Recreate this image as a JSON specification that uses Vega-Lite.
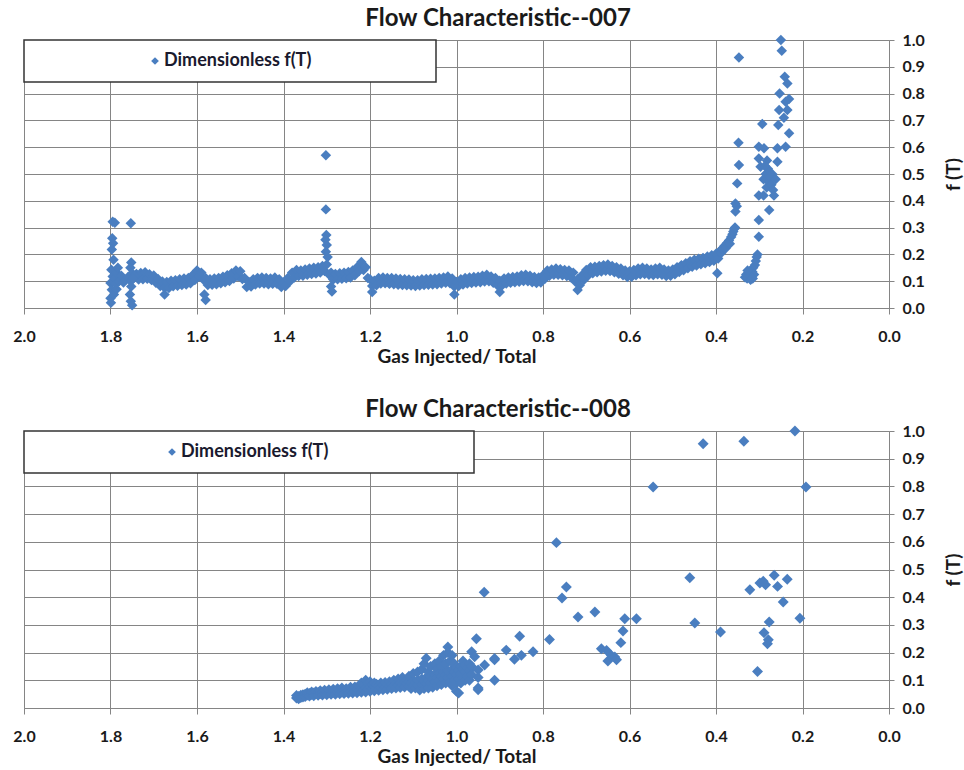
{
"$schema":"https://vega.github.io/schema/vega-lite/v6.json",
"background":"white",
"padding":{"left":12,"top":7,"right":0,"bottom":2},
"spacing":32,
"config":{
"view":{"stroke":null},
"font":"Lato",
"axis":{"labelFont":"Lato","labelFontWeight":"bold","labelFontSize":16,"labelColor":"#1a1a1a","titleFont":"Lato","titleFontWeight":"bold","titleFontSize":19,"titleColor":"#1a1a1a","gridColor":"#858585","gridOpacity":1,"domainColor":"#858585","tickColor":"#858585","labelOverlap":false,"labelBound":false},
"title":{"font":"Lato","fontSize":24,"fontWeight":"bold","color":"#1a1a1a"},
"legend":{"title":null,"orient":"top-left","offset":0,"padding":12,"strokeColor":"#333333","strokeWidth":1.5,"fillColor":"white","symbolType":"diamond","symbolSize":60,"labelFont":"Lato","labelFontWeight":"bold","labelFontSize":18,"labelColor":"#1a1a2e","labelLimit":800,"labelOffset":0}
},
"resolve":{"scale":{"color":"independent"},"legend":{"color":"independent"}},
"datasets":{
"p007":[
{"x":1.74,"y":0.127},{"x":1.735,"y":0.106},{"x":1.73,"y":0.131},{"x":1.725,"y":0.107},{"x":1.72,"y":0.133},{"x":1.715,"y":0.109},{"x":1.71,"y":0.126},{"x":1.705,"y":0.104},{"x":1.70,"y":0.121},{"x":1.695,"y":0.094},{"x":1.69,"y":0.108},{"x":1.685,"y":0.082},{"x":1.68,"y":0.099},{"x":1.675,"y":0.076},{"x":1.67,"y":0.097},{"x":1.665,"y":0.075},{"x":1.66,"y":0.102},{"x":1.655,"y":0.081},{"x":1.65,"y":0.104},{"x":1.645,"y":0.083},{"x":1.64,"y":0.107},{"x":1.635,"y":0.086},{"x":1.63,"y":0.110},{"x":1.625,"y":0.088},{"x":1.62,"y":0.112},{"x":1.615,"y":0.092},{"x":1.61,"y":0.123},{"x":1.605,"y":0.104},{"x":1.60,"y":0.140},{"x":1.595,"y":0.118},{"x":1.59,"y":0.132},{"x":1.585,"y":0.105},{"x":1.58,"y":0.112},{"x":1.575,"y":0.086},{"x":1.57,"y":0.107},{"x":1.565,"y":0.087},{"x":1.56,"y":0.110},{"x":1.555,"y":0.089},{"x":1.55,"y":0.112},{"x":1.545,"y":0.092},{"x":1.54,"y":0.117},{"x":1.535,"y":0.096},{"x":1.53,"y":0.122},{"x":1.525,"y":0.101},{"x":1.52,"y":0.130},{"x":1.515,"y":0.110},{"x":1.51,"y":0.140},{"x":1.505,"y":0.118},{"x":1.50,"y":0.137},{"x":1.495,"y":0.108},{"x":1.49,"y":0.112},{"x":1.485,"y":0.078},{"x":1.48,"y":0.097},{"x":1.475,"y":0.080},{"x":1.47,"y":0.107},{"x":1.465,"y":0.088},{"x":1.46,"y":0.112},{"x":1.455,"y":0.091},{"x":1.45,"y":0.114},{"x":1.445,"y":0.091},{"x":1.44,"y":0.112},{"x":1.435,"y":0.089},{"x":1.43,"y":0.110},{"x":1.425,"y":0.090},{"x":1.42,"y":0.114},{"x":1.415,"y":0.090},{"x":1.41,"y":0.107},{"x":1.405,"y":0.078},{"x":1.40,"y":0.092},{"x":1.395,"y":0.082},{"x":1.39,"y":0.112},{"x":1.385,"y":0.100},{"x":1.38,"y":0.132},{"x":1.375,"y":0.114},{"x":1.37,"y":0.142},{"x":1.365,"y":0.119},{"x":1.36,"y":0.140},{"x":1.355,"y":0.120},{"x":1.35,"y":0.144},{"x":1.345,"y":0.124},{"x":1.34,"y":0.147},{"x":1.335,"y":0.127},{"x":1.33,"y":0.150},{"x":1.325,"y":0.129},{"x":1.32,"y":0.152},{"x":1.315,"y":0.132},{"x":1.31,"y":0.157},{"x":1.305,"y":0.138},{"x":1.30,"y":0.162},{"x":1.295,"y":0.125},{"x":1.29,"y":0.132},{"x":1.285,"y":0.106},{"x":1.28,"y":0.127},{"x":1.275,"y":0.107},{"x":1.27,"y":0.130},{"x":1.265,"y":0.109},{"x":1.26,"y":0.132},{"x":1.255,"y":0.111},{"x":1.25,"y":0.134},{"x":1.245,"y":0.114},{"x":1.24,"y":0.140},{"x":1.235,"y":0.122},{"x":1.23,"y":0.152},{"x":1.225,"y":0.138},{"x":1.22,"y":0.172},{"x":1.215,"y":0.142},{"x":1.21,"y":0.152},{"x":1.205,"y":0.112},{"x":1.20,"y":0.107},{"x":1.195,"y":0.082},{"x":1.19,"y":0.102},{"x":1.185,"y":0.085},{"x":1.18,"y":0.112},{"x":1.175,"y":0.091},{"x":1.17,"y":0.114},{"x":1.165,"y":0.092},{"x":1.16,"y":0.112},{"x":1.155,"y":0.090},{"x":1.15,"y":0.112},{"x":1.145,"y":0.089},{"x":1.14,"y":0.110},{"x":1.135,"y":0.087},{"x":1.13,"y":0.108},{"x":1.125,"y":0.086},{"x":1.12,"y":0.107},{"x":1.115,"y":0.085},{"x":1.11,"y":0.106},{"x":1.105,"y":0.084},{"x":1.10,"y":0.104},{"x":1.095,"y":0.082},{"x":1.09,"y":0.104},{"x":1.085,"y":0.084},{"x":1.08,"y":0.107},{"x":1.075,"y":0.086},{"x":1.07,"y":0.108},{"x":1.065,"y":0.087},{"x":1.06,"y":0.109},{"x":1.055,"y":0.088},{"x":1.05,"y":0.110},{"x":1.045,"y":0.089},{"x":1.04,"y":0.112},{"x":1.035,"y":0.091},{"x":1.03,"y":0.114},{"x":1.025,"y":0.094},{"x":1.02,"y":0.118},{"x":1.015,"y":0.092},{"x":1.01,"y":0.110},{"x":1.005,"y":0.080},{"x":1.00,"y":0.097},{"x":0.995,"y":0.082},{"x":0.99,"y":0.107},{"x":0.985,"y":0.088},{"x":0.98,"y":0.112},{"x":0.975,"y":0.091},{"x":0.97,"y":0.114},{"x":0.965,"y":0.093},{"x":0.96,"y":0.116},{"x":0.955,"y":0.095},{"x":0.95,"y":0.117},{"x":0.945,"y":0.096},{"x":0.94,"y":0.120},{"x":0.935,"y":0.099},{"x":0.93,"y":0.124},{"x":0.925,"y":0.100},{"x":0.92,"y":0.118},{"x":0.915,"y":0.094},{"x":0.91,"y":0.112},{"x":0.905,"y":0.084},{"x":0.90,"y":0.102},{"x":0.895,"y":0.084},{"x":0.89,"y":0.110},{"x":0.885,"y":0.091},{"x":0.88,"y":0.114},{"x":0.875,"y":0.094},{"x":0.87,"y":0.116},{"x":0.865,"y":0.096},{"x":0.86,"y":0.118},{"x":0.855,"y":0.098},{"x":0.85,"y":0.122},{"x":0.845,"y":0.101},{"x":0.84,"y":0.124},{"x":0.835,"y":0.100},{"x":0.83,"y":0.120},{"x":0.825,"y":0.096},{"x":0.82,"y":0.116},{"x":0.815,"y":0.093},{"x":0.81,"y":0.114},{"x":0.805,"y":0.095},{"x":0.80,"y":0.122},{"x":0.795,"y":0.110},{"x":0.79,"y":0.140},{"x":0.785,"y":0.120},{"x":0.78,"y":0.144},{"x":0.775,"y":0.124},{"x":0.77,"y":0.147},{"x":0.765,"y":0.124},{"x":0.76,"y":0.145},{"x":0.755,"y":0.122},{"x":0.75,"y":0.142},{"x":0.745,"y":0.119},{"x":0.74,"y":0.140},{"x":0.735,"y":0.114},{"x":0.73,"y":0.132},{"x":0.725,"y":0.098},{"x":0.72,"y":0.107},{"x":0.715,"y":0.085},{"x":0.71,"y":0.122},{"x":0.705,"y":0.105},{"x":0.70,"y":0.142},{"x":0.695,"y":0.122},{"x":0.69,"y":0.152},{"x":0.685,"y":0.130},{"x":0.68,"y":0.154},{"x":0.675,"y":0.133},{"x":0.67,"y":0.157},{"x":0.665,"y":0.136},{"x":0.66,"y":0.160},{"x":0.655,"y":0.139},{"x":0.65,"y":0.162},{"x":0.645,"y":0.138},{"x":0.64,"y":0.157},{"x":0.635,"y":0.133},{"x":0.63,"y":0.152},{"x":0.625,"y":0.128},{"x":0.62,"y":0.147},{"x":0.615,"y":0.122},{"x":0.61,"y":0.140},{"x":0.605,"y":0.116},{"x":0.60,"y":0.137},{"x":0.595,"y":0.117},{"x":0.59,"y":0.142},{"x":0.585,"y":0.122},{"x":0.58,"y":0.147},{"x":0.575,"y":0.126},{"x":0.57,"y":0.150},{"x":0.565,"y":0.127},{"x":0.56,"y":0.147},{"x":0.555,"y":0.124},{"x":0.55,"y":0.144},{"x":0.545,"y":0.123},{"x":0.54,"y":0.147},{"x":0.535,"y":0.126},{"x":0.53,"y":0.150},{"x":0.525,"y":0.124},{"x":0.52,"y":0.144},{"x":0.515,"y":0.119},{"x":0.51,"y":0.140},{"x":0.505,"y":0.120},{"x":0.50,"y":0.144},{"x":0.495,"y":0.126},{"x":0.49,"y":0.152},{"x":0.485,"y":0.134},{"x":0.48,"y":0.160},{"x":0.475,"y":0.141},{"x":0.47,"y":0.167},{"x":0.465,"y":0.148},{"x":0.46,"y":0.174},{"x":0.455,"y":0.154},{"x":0.45,"y":0.180},{"x":0.445,"y":0.159},{"x":0.44,"y":0.184},{"x":0.435,"y":0.163},{"x":0.43,"y":0.187},{"x":0.425,"y":0.167},{"x":0.42,"y":0.192},{"x":0.415,"y":0.172},{"x":0.41,"y":0.197},{"x":0.405,"y":0.176},{"x":0.40,"y":0.202},{"x":0.395,"y":0.185},
{"x":0.397,"y":0.13},{"x":0.39,"y":0.215},{"x":0.388,"y":0.205},{"x":0.385,"y":0.222},{"x":0.38,"y":0.232},{"x":0.378,"y":0.222},{"x":0.375,"y":0.242},{"x":0.37,"y":0.252},{"x":0.368,"y":0.24},{"x":0.365,"y":0.265},{"x":0.362,"y":0.275},{"x":0.36,"y":0.285},{"x":0.358,"y":0.295},{"x":0.356,"y":0.30},{"x":0.355,"y":0.36},{"x":0.355,"y":0.39},{"x":0.352,"y":0.38},{"x":0.351,"y":0.465},{"x":0.347,"y":0.534},{"x":0.348,"y":0.617},{"x":0.347,"y":0.935},
{"x":0.333,"y":0.115},{"x":0.33,"y":0.125},{"x":0.328,"y":0.11},{"x":0.325,"y":0.13},{"x":0.322,"y":0.12},{"x":0.32,"y":0.14},{"x":0.318,"y":0.115},{"x":0.316,"y":0.135},{"x":0.314,"y":0.15},{"x":0.312,"y":0.125},{"x":0.31,"y":0.16},{"x":0.308,"y":0.175},{"x":0.306,"y":0.19},{"x":0.304,"y":0.2},{"x":0.327,"y":0.14},{"x":0.32,"y":0.105},{"x":0.315,"y":0.11},
{"x":0.301,"y":0.266},{"x":0.301,"y":0.328},{"x":0.301,"y":0.42},{"x":0.297,"y":0.527},{"x":0.301,"y":0.558},{"x":0.301,"y":0.602},{"x":0.293,"y":0.687},{"x":0.289,"y":0.596},{"x":0.29,"y":0.48},{"x":0.285,"y":0.5},{"x":0.28,"y":0.52},{"x":0.283,"y":0.45},{"x":0.278,"y":0.47},{"x":0.275,"y":0.49},{"x":0.272,"y":0.46},{"x":0.27,"y":0.5},{"x":0.268,"y":0.44},{"x":0.277,"y":0.366},{"x":0.266,"y":0.42},{"x":0.262,"y":0.48},{"x":0.258,"y":0.546},{"x":0.258,"y":0.596},{"x":0.256,"y":0.683},{"x":0.254,"y":0.739},{"x":0.253,"y":0.80},{"x":0.25,"y":1.0},{"x":0.248,"y":0.96},{"x":0.243,"y":0.71},{"x":0.241,"y":0.863},{"x":0.239,"y":0.77},{"x":0.239,"y":0.602},{"x":0.235,"y":0.838},{"x":0.235,"y":0.739},{"x":0.231,"y":0.78},{"x":0.231,"y":0.652},{"x":0.282,"y":0.55},{"x":0.287,"y":0.53},{"x":0.29,"y":0.42},
{"x":1.795,"y":0.322},{"x":1.79,"y":0.318},{"x":1.796,"y":0.26},{"x":1.794,"y":0.242},{"x":1.797,"y":0.218},{"x":1.793,"y":0.18},{"x":1.798,"y":0.143},{"x":1.795,"y":0.118},{"x":1.80,"y":0.093},{"x":1.797,"y":0.068},{"x":1.80,"y":0.036},{"x":1.799,"y":0.02},{"x":1.79,"y":0.11},{"x":1.785,"y":0.13},{"x":1.788,"y":0.09},{"x":1.783,"y":0.15},{"x":1.78,"y":0.1},{"x":1.775,"y":0.12},{"x":1.77,"y":0.095},{"x":1.765,"y":0.105},{"x":1.76,"y":0.115},{"x":1.792,"y":0.05},{"x":1.786,"y":0.07},
{"x":1.753,"y":0.316},{"x":1.752,"y":0.17},{"x":1.754,"y":0.15},{"x":1.75,"y":0.13},{"x":1.753,"y":0.1},{"x":1.752,"y":0.08},{"x":1.755,"y":0.05},{"x":1.753,"y":0.025},{"x":1.75,"y":0.01},{"x":1.745,"y":0.12},{"x":1.748,"y":0.11},
{"x":1.302,"y":0.57},{"x":1.302,"y":0.368},{"x":1.301,"y":0.272},{"x":1.303,"y":0.255},{"x":1.30,"y":0.235},{"x":1.302,"y":0.21},{"x":1.298,"y":0.19},{"x":1.29,"y":0.08},{"x":1.288,"y":0.062},
{"x":1.58,"y":0.03},{"x":1.583,"y":0.05},{"x":1.675,"y":0.05},{"x":1.195,"y":0.06},{"x":1.005,"y":0.05},{"x":0.90,"y":0.06},{"x":0.72,"y":0.067}
],
"p008":[
{"x":1.37,"y":0.036},{"x":1.37,"y":0.045},{"x":1.365,"y":0.042},{"x":1.365,"y":0.033},{"x":1.36,"y":0.046},{"x":1.36,"y":0.038},{"x":1.355,"y":0.048},{"x":1.355,"y":0.040},{"x":1.35,"y":0.050},{"x":1.35,"y":0.041},{"x":1.345,"y":0.047},{"x":1.345,"y":0.055},{"x":1.34,"y":0.052},{"x":1.34,"y":0.043},{"x":1.335,"y":0.049},{"x":1.335,"y":0.058},{"x":1.33,"y":0.054},{"x":1.33,"y":0.044},{"x":1.325,"y":0.051},{"x":1.325,"y":0.060},{"x":1.32,"y":0.056},{"x":1.32,"y":0.046},{"x":1.315,"y":0.052},{"x":1.315,"y":0.062},{"x":1.31,"y":0.057},{"x":1.31,"y":0.047},{"x":1.305,"y":0.054},{"x":1.305,"y":0.064},{"x":1.30,"y":0.058},{"x":1.30,"y":0.048},{"x":1.295,"y":0.055},{"x":1.295,"y":0.066},{"x":1.29,"y":0.059},{"x":1.29,"y":0.050},{"x":1.285,"y":0.057},{"x":1.285,"y":0.068},{"x":1.28,"y":0.060},{"x":1.28,"y":0.050},{"x":1.275,"y":0.058},{"x":1.275,"y":0.070},{"x":1.27,"y":0.062},{"x":1.27,"y":0.051},{"x":1.265,"y":0.058},{"x":1.265,"y":0.072},{"x":1.26,"y":0.063},{"x":1.26,"y":0.052},{"x":1.255,"y":0.060},{"x":1.255,"y":0.070},{"x":1.25,"y":0.064},{"x":1.25,"y":0.053},{"x":1.245,"y":0.061},{"x":1.245,"y":0.075},{"x":1.24,"y":0.066},{"x":1.24,"y":0.054},{"x":1.235,"y":0.062},{"x":1.235,"y":0.076},{"x":1.23,"y":0.068},{"x":1.23,"y":0.055},{"x":1.225,"y":0.064},{"x":1.225,"y":0.08},{"x":1.22,"y":0.07},{"x":1.22,"y":0.057},{"x":1.22,"y":0.09},{"x":1.215,"y":0.066},{"x":1.215,"y":0.085},{"x":1.21,"y":0.072},{"x":1.21,"y":0.058},{"x":1.21,"y":0.1},{"x":1.205,"y":0.068},{"x":1.205,"y":0.09},{"x":1.20,"y":0.075},{"x":1.20,"y":0.06},{"x":1.20,"y":0.095},{"x":1.195,"y":0.07},{"x":1.195,"y":0.085},{"x":1.19,"y":0.078},{"x":1.19,"y":0.062},{"x":1.19,"y":0.09},{"x":1.185,"y":0.072},{"x":1.185,"y":0.086},{"x":1.18,"y":0.08},{"x":1.18,"y":0.064},{"x":1.175,"y":0.074},{"x":1.175,"y":0.09},{"x":1.17,"y":0.082},{"x":1.17,"y":0.066},{"x":1.165,"y":0.076},{"x":1.165,"y":0.092},{"x":1.16,"y":0.084},{"x":1.16,"y":0.068},{"x":1.155,"y":0.078},{"x":1.155,"y":0.095},{"x":1.15,"y":0.086},{"x":1.15,"y":0.07},{"x":1.145,"y":0.08},{"x":1.145,"y":0.1},{"x":1.14,"y":0.088},{"x":1.14,"y":0.072},{"x":1.135,"y":0.082},{"x":1.135,"y":0.105},{"x":1.13,"y":0.09},{"x":1.13,"y":0.074},{"x":1.125,"y":0.085},{"x":1.125,"y":0.11},{"x":1.12,"y":0.092},{"x":1.12,"y":0.076},{"x":1.115,"y":0.088},{"x":1.115,"y":0.1},{"x":1.11,"y":0.095},{"x":1.11,"y":0.078},{"x":1.11,"y":0.115},{"x":1.105,"y":0.09},{"x":1.105,"y":0.07},{"x":1.10,"y":0.098},{"x":1.10,"y":0.08},{"x":1.10,"y":0.125},{"x":1.095,"y":0.092},{"x":1.095,"y":0.072},{"x":1.09,"y":0.1},{"x":1.09,"y":0.082},{"x":1.09,"y":0.13},{"x":1.085,"y":0.095},{"x":1.085,"y":0.065},{"x":1.08,"y":0.105},{"x":1.08,"y":0.085},{"x":1.08,"y":0.14},{"x":1.075,"y":0.098},{"x":1.075,"y":0.07},{"x":1.075,"y":0.16},{"x":1.07,"y":0.11},{"x":1.07,"y":0.088},{"x":1.07,"y":0.18},{"x":1.065,"y":0.1},{"x":1.065,"y":0.072},{"x":1.065,"y":0.13},{"x":1.06,"y":0.115},{"x":1.06,"y":0.09},{"x":1.06,"y":0.15},{"x":1.055,"y":0.105},{"x":1.055,"y":0.075},{"x":1.05,"y":0.12},{"x":1.05,"y":0.095},{"x":1.05,"y":0.16},{"x":1.045,"y":0.11},{"x":1.045,"y":0.08},{"x":1.045,"y":0.14},{"x":1.04,"y":0.125},{"x":1.04,"y":0.1},{"x":1.04,"y":0.17},{"x":1.035,"y":0.115},{"x":1.035,"y":0.085},{"x":1.035,"y":0.15},{"x":1.03,"y":0.13},{"x":1.03,"y":0.105},{"x":1.03,"y":0.19},{"x":1.025,"y":0.12},{"x":1.025,"y":0.09},{"x":1.025,"y":0.16},{"x":1.02,"y":0.135},{"x":1.02,"y":0.11},{"x":1.02,"y":0.22},{"x":1.02,"y":0.2},{"x":1.015,"y":0.125},{"x":1.015,"y":0.095},{"x":1.015,"y":0.17},{"x":1.01,"y":0.14},{"x":1.01,"y":0.115},{"x":1.01,"y":0.08},{"x":1.01,"y":0.19},{"x":1.005,"y":0.13},{"x":1.005,"y":0.1},{"x":1.005,"y":0.16},{"x":1.00,"y":0.145},{"x":1.00,"y":0.12},{"x":1.00,"y":0.09},{"x":1.00,"y":0.06},{"x":0.995,"y":0.135},{"x":0.995,"y":0.105},{"x":0.995,"y":0.054},{"x":0.99,"y":0.15},{"x":0.99,"y":0.125},{"x":0.99,"y":0.09},{"x":0.985,"y":0.14},{"x":0.985,"y":0.11},{"x":0.985,"y":0.17},{"x":0.98,"y":0.155},{"x":0.98,"y":0.13},{"x":0.98,"y":0.1},{"x":0.975,"y":0.145},{"x":0.975,"y":0.115},{"x":0.97,"y":0.16},{"x":0.97,"y":0.135},{"x":0.97,"y":0.1},{"x":0.965,"y":0.203},{"x":0.965,"y":0.15},{"x":0.965,"y":0.12},{"x":0.958,"y":0.185},{"x":0.954,"y":0.25},{"x":0.95,"y":0.137},{"x":0.95,"y":0.072},{"x":0.95,"y":0.11},{"x":0.95,"y":0.066},{"x":0.935,"y":0.155},{"x":0.936,"y":0.418},{"x":0.912,"y":0.179},{"x":0.912,"y":0.10},{"x":0.912,"y":0.1745},{"x":0.885,"y":0.209},{"x":0.866,"y":0.176},{"x":0.854,"y":0.259},{"x":0.85,"y":0.19},{"x":0.823,"y":0.203},{"x":0.785,"y":0.247},
{"x":0.2175,"y":1.0},{"x":0.4297,"y":0.954},{"x":0.3356,"y":0.963},{"x":0.5454,"y":0.798},{"x":0.192,"y":0.798},{"x":0.769,"y":0.597},{"x":0.4606,"y":0.4705},{"x":0.746,"y":0.437},{"x":0.756,"y":0.397},{"x":0.3217,"y":0.427},{"x":0.2985,"y":0.451},{"x":0.2908,"y":0.458},{"x":0.2854,"y":0.445},{"x":0.2654,"y":0.479},{"x":0.2577,"y":0.439},{"x":0.2353,"y":0.4645},{"x":0.2446,"y":0.383},{"x":0.206,"y":0.324},{"x":0.719,"y":0.3285},{"x":0.68,"y":0.3466},{"x":0.611,"y":0.3225},{"x":0.584,"y":0.3225},{"x":0.615,"y":0.278},{"x":0.62,"y":0.236},{"x":0.449,"y":0.307},{"x":0.3896,"y":0.274},{"x":0.277,"y":0.3105},{"x":0.289,"y":0.272},{"x":0.281,"y":0.232},{"x":0.279,"y":0.2467},{"x":0.304,"y":0.132},{"x":0.665,"y":0.214},{"x":0.653,"y":0.208},{"x":0.642,"y":0.19},{"x":0.65,"y":0.17},{"x":0.634,"y":0.184},{"x":0.63,"y":0.1745}
]
},
"vconcat":[
{
"title":{"text":"Flow Characteristic--007","frame":"bounds","anchor":"middle","offset":1,"dx":10},
"width":865,"height":268,
"data":{"name":"p007"},
"mark":{"type":"point","shape":"diamond","filled":true,"size":110,"opacity":1},
"encoding":{
"x":{"field":"x","type":"quantitative","scale":{"domain":[0,2],"reverse":true,"nice":false,"zero":false},"axis":{"values":[0,0.2,0.4,0.6,0.8,1.0,1.2,1.4,1.6,1.8,2.0],"format":".1f","grid":true,"labelFlush":false,"tickSize":6,"labelPadding":14,"titlePadding":3,"title":"Gas Injected/ Total"}},
"y":{"field":"y","type":"quantitative","scale":{"domain":[0,1],"nice":false},"axis":{"orient":"right","values":[0,0.1,0.2,0.3,0.4,0.5,0.6,0.7,0.8,0.9,1.0],"format":".1f","grid":true,"tickSize":5,"labelPadding":8,"title":"f (T)","titleAngle":270,"titleBaseline":"top","titlePadding":20}},
"color":{"datum":"Dimensionless f(T)","type":"nominal","scale":{"range":["#4a7ec0"]},"legend":{"symbolOffset":110,"labelExpr":"datum.label + '\u2003\u2003\u2003\u2003\u2003\u2003\u2003\u2002\u2002\u200b'"}}
}
},
{
"title":{"text":"Flow Characteristic--008","frame":"bounds","anchor":"middle","offset":1,"dx":10},
"width":865,"height":277,
"data":{"name":"p008"},
"mark":{"type":"point","shape":"diamond","filled":true,"size":120,"opacity":1},
"encoding":{
"x":{"field":"x","type":"quantitative","scale":{"domain":[0,2],"reverse":true,"nice":false,"zero":false},"axis":{"values":[0,0.2,0.4,0.6,0.8,1.0,1.2,1.4,1.6,1.8,2.0],"format":".1f","grid":true,"labelFlush":false,"tickSize":6,"labelPadding":14,"titlePadding":3,"title":"Gas Injected/ Total"}},
"y":{"field":"y","type":"quantitative","scale":{"domain":[0,1],"nice":false},"axis":{"orient":"right","values":[0,0.1,0.2,0.3,0.4,0.5,0.6,0.7,0.8,0.9,1.0],"format":".1f","grid":true,"tickSize":5,"labelPadding":8,"title":"f (T)","titleAngle":270,"titleBaseline":"top","titlePadding":20}},
"color":{"datum":"Dimensionless f(T)","type":"nominal","scale":{"range":["#4a7ec0"]},"legend":{"symbolOffset":127,"labelExpr":"datum.label + '\u2003\u2003\u2003\u2003\u2003\u2003\u2003\u2003\u2003\u2002\u2009\u200b'"}}
}
}
]
}
